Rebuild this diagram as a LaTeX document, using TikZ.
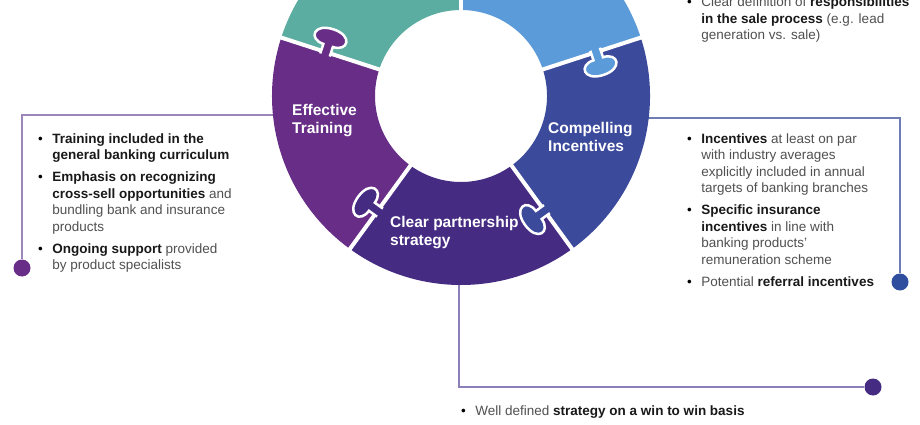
\documentclass[tikz,border=0pt]{standalone}
\usepackage{fontspec}
\setmainfont{Liberation Sans}
\definecolor{tealseg}{HTML}{5CADA1}
\definecolor{skyseg}{HTML}{5B9BD9}
\definecolor{navyseg}{HTML}{3C4A9C}
\definecolor{indigoseg}{HTML}{462B83}
\definecolor{plumseg}{HTML}{682D87}
\definecolor{bodygrey}{HTML}{505050}
\definecolor{plumline}{HTML}{9C86BA}
\definecolor{navyline}{HTML}{6D7CB3}
\definecolor{indigoline}{HTML}{8C7FB9}
\definecolor{navydot}{HTML}{2F4E9E}
\tikzset{
  seglabel/.style={anchor=north west, inner sep=0pt, text=white,
                   font=\fontsize{15.5}{18.5}\selectfont\bfseries},
  bulletlist/.style={anchor=north west, inner sep=0pt, text=bodygrey,
                     font=\fontsize{13.5}{16.5}\selectfont},
  pinline/.style={line width=1.3pt},
  pindot/.style={circle, inner sep=0pt, minimum size=17pt},
  gapline/.style={white, line width=4pt},
  knob/.style={draw=white, line width=2.5pt},
}
\newcommand{\hb}[1]{\textcolor{black!90}{\textbf{#1}}}
\newcommand{\bl}{\textcolor{black}{\textbullet}}

\begin{document}
\begin{tikzpicture}[x=1pt, y=1pt]
    \useasboundingbox (0,0) rectangle (920,-425);
    \fill[white] (0,0) rectangle (920,-425);
    \clip (0,0) rectangle (920,-425);

    % pins
    \coordinate (trainedge) at (300,-115);
    \coordinate (incentedge) at (620,-118);
    \coordinate (strategyedge) at (459,-260);
    \node[pindot, fill=plumseg] (traindot) at (22,-268) {};
    \node[pindot, fill=navydot] (incentdot) at (900,-282) {};
    \node[pindot, fill=indigoseg] (strategydot) at (873,-387) {};
    \draw[pinline, plumline] (trainedge) -| (traindot);
    \draw[pinline, navyline] (incentedge) -| (incentdot);
    \draw[pinline, indigoline] (strategyedge) |- (strategydot);

    % puzzle ring
    \begin{scope}[shift={(461,-96)}]
      \foreach \a/\clr in {90/tealseg, 18/skyseg, -54/navyseg, -126/indigoseg, -198/plumseg}{
        \fill[\clr] (\a:86) -- (\a:189) arc[start angle=\a, end angle=\a+72, radius=189]
          -- (\a+72:86) arc[start angle=\a+72, end angle=\a, radius=86] -- cycle;
      }
      \foreach \a in {90, 18, -54, -126, 162}
        \draw[gapline] (\a:80) -- (\a:195);
      \foreach \a/\clr in {90/tealseg, 18/skyseg, -54/navyseg, -126/indigoseg, 162/plumseg}{
        \filldraw[knob, fill=\clr, rotate=\a] (137,3) -- (137,-7)
          .. controls (121,-7) and (121,-24) .. (142,-24)
          .. controls (163,-24) and (163,-7) .. (147,-7) -- (147,3);
      }
    \end{scope}

    \node[seglabel] (trainlabel) at (292,-102) {\begin{tabular}{@{}l@{}}Effective\\Training\end{tabular}};
    \node[seglabel] (incentlabel) at (548,-120) {\begin{tabular}{@{}l@{}}Compelling\\Incentives\end{tabular}};
    \node[seglabel] (strategylabel) at (390,-214) {\begin{tabular}{@{}l@{}}Clear partnership\\strategy\end{tabular}};

    \node[bulletlist] (salelist) at (687,5) {\begin{tabular}{@{}l@{\hspace{9.5pt}}l@{}}
      \bl & Clear definition of \hb{responsibilities}\\
          & \hb{in the sale process} (e.g. lead\\
          & generation vs. sale)
    \end{tabular}};
    \node[bulletlist] (trainlist) at (38,-131.5) {\begin{tabular}{@{}l@{\hspace{9.5pt}}l@{}}
      \bl & \hb{Training included in the}\\
          & \hb{general banking curriculum}\\[5.5pt]
      \bl & \hb{Emphasis on recognizing}\\
          & \hb{cross-sell opportunities} and\\
          & bundling bank and insurance\\
          & products\\[5.5pt]
      \bl & \hb{Ongoing support} provided\\
          & by product specialists
    \end{tabular}};
    \node[bulletlist] (incentlist) at (687,-131.5) {\begin{tabular}{@{}l@{\hspace{9.5pt}}l@{}}
      \bl & \hb{Incentives} at least on par\\
          & with industry averages\\
          & explicitly included in annual\\
          & targets of banking branches\\[5.5pt]
      \bl & \hb{Specific insurance}\\
          & \hb{incentives} in line with\\
          & banking products'\\
          & remuneration scheme\\[5.5pt]
      \bl & Potential \hb{referral incentives}
    \end{tabular}};
    \node[bulletlist] (strategylist) at (461,-404) {\begin{tabular}{@{}l@{\hspace{9.5pt}}l@{}}
      \bl & Well defined \hb{strategy on a win to win basis}
    \end{tabular}};
\end{tikzpicture}
\end{document}
